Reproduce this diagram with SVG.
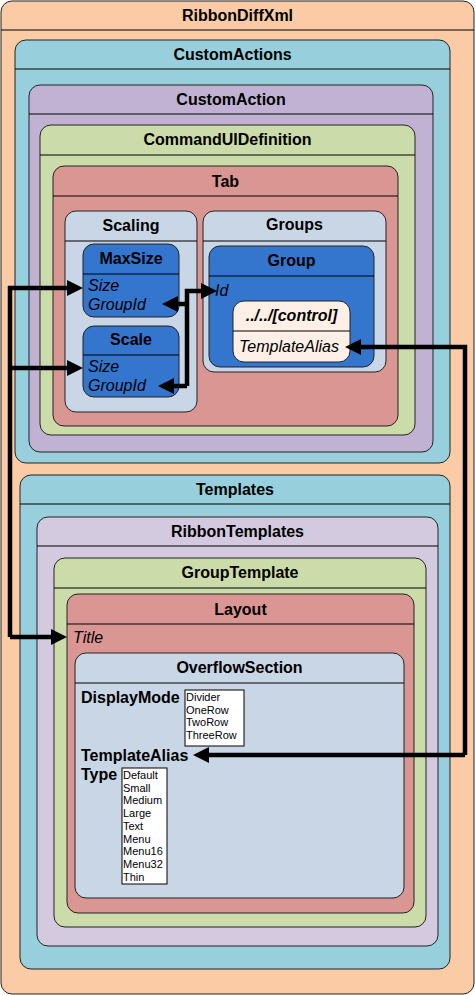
<svg xmlns="http://www.w3.org/2000/svg" width="475" height="995" viewBox="0 0 475 995">
<defs>
<style>
.box{stroke:#222;stroke-width:1}
.hl{stroke:#000;stroke-width:1}
.t{font-family:"Liberation Sans",Arial,sans-serif;font-size:16px;font-weight:bold;fill:#000;text-anchor:middle}
.a{font-family:"Liberation Sans",Arial,sans-serif;font-size:16px;font-style:italic;fill:#000}
.b{font-family:"Liberation Sans",Arial,sans-serif;font-size:16px;font-weight:bold;fill:#000}
.l{font-family:"Liberation Sans",Arial,sans-serif;font-size:11px;fill:#000}
.lb{fill:#fff;stroke:#000;stroke-width:1}
.c{fill:none;stroke:#000;stroke-width:4.5}
.peach{fill:#FBCBA6}.teal{fill:#97D0DC}.lav{fill:#C1B2D3}.lav2{fill:#D3CAE0}.grn{fill:#CBDBA9}.red{fill:#DA9692}.gry{fill:#C8D6E6}.blu{fill:#3475CD}.crm{fill:#FEF0E6}
</style>
<marker id="ah" markerUnits="userSpaceOnUse" markerWidth="16" markerHeight="16" viewBox="0 0 16 16" refX="2" refY="8" orient="auto">
<path d="M0,0 L16,8 L0,16 Z" fill="#000"/>
</marker>
</defs>

<g id="RibbonDiffXml">
<rect class="box peach" x="1" y="1" width="473" height="993" rx="11"/>
<line class="hl" x1="1" y1="30" x2="474" y2="30"/>
<text class="t" x="237.5" y="21">RibbonDiffXml</text>
</g>

<g id="CustomActions">
<rect class="box teal" x="15" y="40" width="435" height="423" rx="11"/>
<line class="hl" x1="15" y1="69" x2="450" y2="69"/>
<text class="t" x="232.5" y="60">CustomActions</text>
</g>

<g id="CustomAction">
<rect class="box lav" x="29" y="85" width="404" height="367" rx="11"/>
<line class="hl" x1="29" y1="114" x2="433" y2="114"/>
<text class="t" x="231" y="105">CustomAction</text>
</g>

<g id="CommandUIDefinition">
<rect class="box grn" x="40" y="125" width="375" height="310" rx="11"/>
<line class="hl" x1="40" y1="155" x2="415" y2="155"/>
<text class="t" x="227.5" y="145">CommandUIDefinition</text>
</g>

<g id="Tab">
<rect class="box red" x="53" y="166" width="345" height="260" rx="11"/>
<line class="hl" x1="53" y1="196" x2="398" y2="196"/>
<text class="t" x="225.5" y="187">Tab</text>
</g>

<g id="Scaling">
<rect class="box gry" x="65" y="211" width="132" height="201" rx="11"/>
<line class="hl" x1="65" y1="241" x2="197" y2="241"/>
<text class="t" x="131" y="231">Scaling</text>
</g>

<g id="MaxSize">
<rect class="box blu" x="83" y="244" width="96" height="73" rx="11"/>
<line class="hl" x1="83" y1="274" x2="179" y2="274"/>
<text class="t" x="131" y="264">MaxSize</text>
<text class="a" x="88" y="291">Size</text>
<text class="a" x="88" y="310">GroupId</text>
</g>

<g id="Scale">
<rect class="box blu" x="83" y="326" width="96" height="71" rx="11"/>
<line class="hl" x1="83" y1="355" x2="179" y2="355"/>
<text class="t" x="131" y="345">Scale</text>
<text class="a" x="88" y="372">Size</text>
<text class="a" x="88" y="391">GroupId</text>
</g>

<g id="Groups">
<rect class="box gry" x="203" y="211" width="183" height="161" rx="11"/>
<line class="hl" x1="203" y1="241" x2="386" y2="241"/>
<text class="t" x="294.5" y="230">Groups</text>
</g>

<g id="Group">
<rect class="box blu" x="209" y="246" width="165" height="121" rx="11"/>
<line class="hl" x1="209" y1="276" x2="374" y2="276"/>
<text class="t" x="291.5" y="266">Group</text>
<text class="a" x="215" y="296">Id</text>
</g>

<g id="Control">
<rect class="box crm" x="233" y="301" width="117" height="61" rx="11"/>
<line class="hl" x1="233" y1="331" x2="350" y2="331"/>
<text class="t" x="291.5" y="321" font-style="italic">../../[control]</text>
<text class="a" x="239" y="352">TemplateAlias</text>
</g>

<g id="Templates">
<rect class="box teal" x="20" y="475" width="430" height="494" rx="11"/>
<line class="hl" x1="20" y1="504" x2="450" y2="504"/>
<text class="t" x="235" y="495">Templates</text>
</g>

<g id="RibbonTemplates">
<rect class="box lav2" x="37" y="517" width="401" height="429" rx="11"/>
<line class="hl" x1="37" y1="546" x2="438" y2="546"/>
<text class="t" x="237.5" y="537">RibbonTemplates</text>
</g>

<g id="GroupTemplate">
<rect class="box grn" x="54" y="558" width="372" height="369" rx="11"/>
<line class="hl" x1="54" y1="588" x2="426" y2="588"/>
<text class="t" x="240" y="578">GroupTemplate</text>
</g>

<g id="Layout">
<rect class="box red" x="67" y="594" width="347" height="319" rx="11"/>
<line class="hl" x1="67" y1="624" x2="414" y2="624"/>
<text class="t" x="240.5" y="615">Layout</text>
<text class="a" x="73" y="643">Title</text>
</g>

<g id="OverflowSection">
<rect class="box gry" x="75" y="653" width="329" height="245" rx="11"/>
<line class="hl" x1="75" y1="683" x2="404" y2="683"/>
<text class="t" x="239.5" y="673">OverflowSection</text>
<text class="b" x="81" y="703">DisplayMode</text>
<rect class="lb" x="185" y="690" width="59" height="56"/>
<text class="l" x="186" y="701">Divider</text>
<text class="l" x="186" y="714">OneRow</text>
<text class="l" x="186" y="726">TwoRow</text>
<text class="l" x="186" y="739">ThreeRow</text>
<text class="b" x="81" y="761">TemplateAlias</text>
<text class="b" x="81" y="780">Type</text>
<rect class="lb" x="122" y="768" width="45" height="116"/>
<text class="l" x="123" y="779">Default</text>
<text class="l" x="123" y="792">Small</text>
<text class="l" x="123" y="804">Medium</text>
<text class="l" x="123" y="817">Large</text>
<text class="l" x="123" y="830">Text</text>
<text class="l" x="123" y="843">Menu</text>
<text class="l" x="123" y="855">Menu16</text>
<text class="l" x="123" y="868">Menu32</text>
<text class="l" x="123" y="881">Thin</text>
</g>

<g id="connectors">
<path class="c" d="M10,637 L10,288 L69,288" marker-end="url(#ah)"/>
<path class="c" d="M10,368 L69,368" marker-end="url(#ah)"/>
<path class="c" d="M10,637 L53,637" marker-end="url(#ah)"/>
<path class="c" d="M187,386 L187,291 L203,291" marker-end="url(#ah)"/>
<path class="c" d="M187,304 L176,304" marker-end="url(#ah)"/>
<path class="c" d="M187,386 L172,386" marker-end="url(#ah)"/>
<path class="c" d="M465,755 L465,347 L359,347" marker-end="url(#ah)"/>
<path class="c" d="M465,755 L207,755" marker-end="url(#ah)"/>
</g>
</svg>
